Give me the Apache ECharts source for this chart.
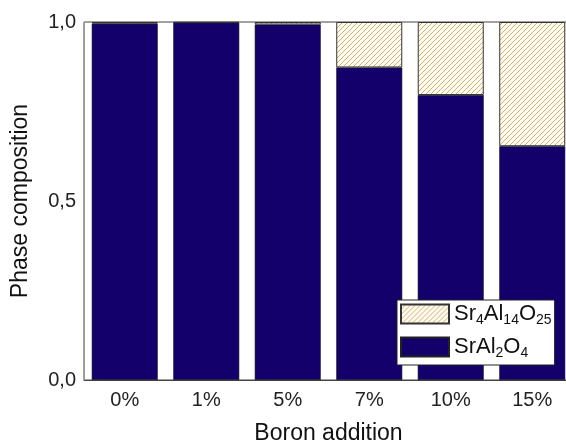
<!DOCTYPE html>
<html>
<head>
<meta charset="utf-8">
<script src="https://cdn.jsdelivr.net/npm/echarts@6/dist/echarts.min.js"></script>
<style>
html, body { margin: 0; padding: 0; background: #fff; }
#chart { width: 566px; height: 446px; }
</style>
</head>
<body>
<div id="chart"></div>
<script>
// data
var categories = ['0%', '1%', '5%', '7%', '10%', '15%'];
var srAl2O4 = [0.995, 0.998, 0.993, 0.873, 0.796, 0.653];
var sr4Al14O25 = [0.005, 0.002, 0.007, 0.127, 0.204, 0.347];
var yTicks = [0, 0.5, 1];

// hatch pattern for Sr4Al14O25
function hatch() {
    var p = 5;
    var c = document.createElement('canvas');
    c.width = p; c.height = p;
    var g = c.getContext('2d');
    g.fillStyle = '#fffbef';
    g.fillRect(0, 0, p, p);
    g.strokeStyle = '#d0b07a';
    g.lineWidth = 1;
    g.beginPath();
    g.moveTo(0, p); g.lineTo(p, 0);
    g.moveTo(-1, 1); g.lineTo(1, -1);
    g.moveTo(p - 1, p + 1); g.lineTo(p + 1, p - 1);
    g.stroke();
    return c;
}

var navy = '#13006b';
var font = 'Liberation Sans, Arial, sans-serif';

var chart = echarts.init(document.getElementById('chart'));
var option = {
    animation: false,
    // plot runs a little past the right edge, as in the cropped original
    grid: {
        left: 84, right: -7, top: 22, bottom: 66,
        outerBoundsMode: 'none',
        containLabel: false,
        show: true, borderColor: '#444', borderWidth: 1
    },
    legend: {
        data: ['Sr4Al14O25', 'SrAl2O4'],
        orient: 'vertical',
        left: 397, top: 300,
        backgroundColor: '#fff',
        borderColor: '#222',
        borderWidth: 1,
        padding: [3, 3, 5, 3],
        icon: 'rect',
        itemWidth: 48, itemHeight: 19,
        itemGap: 9,
        selectedMode: false,
        formatter: function (name) {
            if (name === 'Sr4Al14O25') {
                return '{n|Sr}{s|4}{n|Al}{s|14}{n|O}{s|25}';
            }
            return '{n|SrAl}{s|2}{n|O}{s|4}';
        },
        textStyle: {
            fontFamily: font,
            rich: {
                n: { fontSize: 22, color: '#111', fontFamily: font, lineHeight: 26, verticalAlign: 'middle' },
                s: { fontSize: 14, color: '#111', fontFamily: font, lineHeight: 14, verticalAlign: 'bottom' }
            }
        }
    },
    xAxis: {
        type: 'category',
        data: categories,
        name: 'Boron addition',
        nameLocation: 'middle',
        nameGap: 42,
        nameTextStyle: { fontSize: 23, color: '#111', fontFamily: font },
        axisLine: { lineStyle: { color: '#444', width: 1 } },
        axisTick: { show: false },
        axisLabel: { fontSize: 20, color: '#222', fontFamily: font, margin: 10 }
    },
    yAxis: {
        type: 'value',
        min: yTicks[0],
        max: yTicks[yTicks.length - 1],
        interval: 0.5,
        name: 'Phase composition',
        nameLocation: 'middle',
        nameGap: 52,
        nameTextStyle: { fontSize: 23, color: '#111', fontFamily: font },
        splitLine: { show: false },
        axisLine: { show: true, lineStyle: { color: '#999', width: 1 } },
        axisTick: { show: false },
        axisLabel: {
            fontSize: 20, color: '#222', fontFamily: font, margin: 8,
            formatter: function (v) { return v.toFixed(1).replace('.', ','); }
        }
    },
    series: [
        {
            name: 'SrAl2O4',
            type: 'bar',
            stack: 'phase',
            barWidth: '81%',
            data: srAl2O4,
            itemStyle: { color: navy, borderColor: '#222', borderWidth: 0.6 }
        },
        {
            name: 'Sr4Al14O25',
            type: 'bar',
            stack: 'phase',
            barWidth: '81%',
            data: sr4Al14O25,
            itemStyle: {
                color: { image: hatch(), repeat: 'repeat' },
                borderColor: '#333', borderWidth: 1
            }
        }
    ]
};
chart.setOption(option);
</script>
</body>
</html>
